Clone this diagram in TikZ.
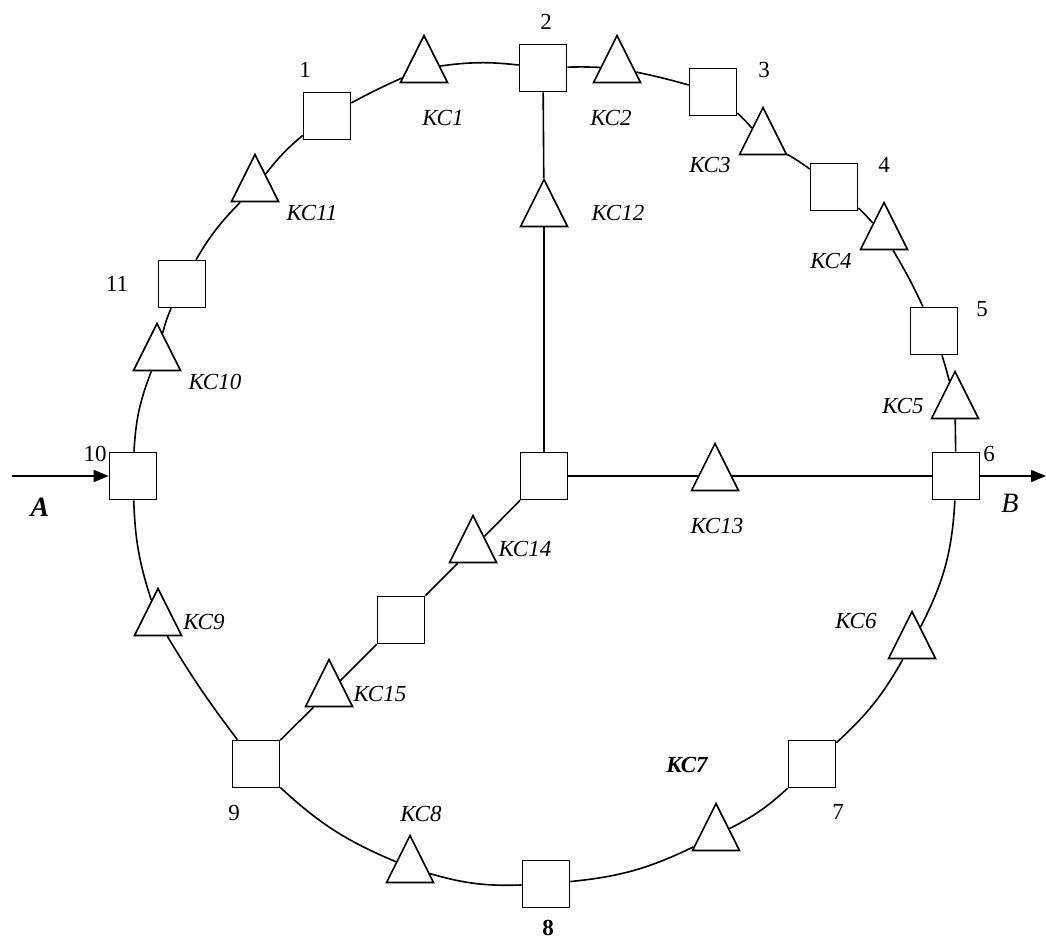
\documentclass[tikz,border=0pt]{standalone}
\usepackage{fontspec}
\setmainfont{Liberation Serif}
\usetikzlibrary{shapes.geometric,arrows.meta}
\begin{document}
\begin{tikzpicture}[x=1pt,y=1pt,
  sq/.style={draw,line width=1.6pt,minimum size=47pt,inner sep=0pt},
  tri/.style={draw,line width=1.6pt,isosceles triangle,shape border rotate=90,isosceles triangle stretches,minimum width=47pt,minimum height=47pt,inner sep=0pt},
  lbl/.style={font=\fontsize{23}{27}\selectfont,inner sep=0pt},
  kc/.style={font=\fontsize{23}{27}\selectfont\itshape,inner sep=0pt},
  pipe/.style={line width=1.6pt},
  tip/.style={-{Triangle[length=15pt,width=12pt]}},
]
\useasboundingbox (0,0) rectangle (1046,-942);
% squares
\node[sq] (n1) at (327,-116) {};
\node[sq] (n2) at (543,-68) {};
\node[sq] (n3) at (713,-92) {};
\node[sq] (n4) at (834,-187) {};
\node[sq] (n5) at (934,-331) {};
\node[sq] (n6) at (956,-476) {};
\node[sq] (n7) at (812,-764) {};
\node[sq] (n8) at (546,-884) {};
\node[sq] (n9) at (256,-764) {};
\node[sq] (n10) at (133,-476) {};
\node[sq] (n11) at (182,-284) {};
\node[sq] (nc) at (544,-476) {};
\node[sq] (nm) at (401,-620) {};
% triangles
\node[tri] (k1) at (424,-68) {};
\node[tri] (k2) at (617,-68) {};
\node[tri] (k3) at (763,-140) {};
\node[tri] (k4) at (884,-235) {};
\node[tri] (k5) at (955,-404) {};
\node[tri] (k6) at (912,-644) {};
\node[tri] (k7) at (716,-836) {};
\node[tri] (k8) at (410,-868) {};
\node[tri] (k9) at (158,-621) {};
\node[tri] (k10) at (157,-356) {};
\node[tri] (k11) at (255,-187) {};
\node[tri] (k12) at (544,-212) {};
\node[tri] (k13) at (715,-476) {};
\node[tri] (k14) at (473,-548) {};
\node[tri] (k15) at (329,-692) {};
% ring
\draw[pipe] (n10) to[bend left=9] (k10);
\draw[pipe] (k10) to[bend left=5] (n11);
\draw[pipe] (n11) to[bend left=7] (k11);
\draw[pipe] (k11) to[bend left=6] (n1);
\draw[pipe] (n1) to[bend left=2] (k1);
\draw[pipe] (k1) to[bend left=7] (n2);
\draw[pipe] (n2) to[bend left=2] (k2);
\draw[pipe] (k2) to[bend left=2] (n3);
\draw[pipe] (n3) to[bend left=3] (k3);
\draw[pipe] (k3) to[bend left=3] (n4);
\draw[pipe] (n4) to[bend left=3] (k4);
\draw[pipe] (k4) to[bend left=3] (n5);
\draw[pipe] (n5) to[bend left=2] (k5);
\draw[pipe] (k5) -- (n6);
\draw[pipe] (n6) to[bend left=12] (k6);
\draw[pipe] (k6) to[bend left=9] (n7);
\draw[pipe] (n7) to[bend left=8] (k7);
\draw[pipe] (k7) to[bend left=10] (n8);
\draw[pipe] (n8) to[bend left=9] (k8);
\draw[pipe] (k8) to[bend left=10] (n9);
\draw[pipe] (n9) to[bend left=3] (k9);
\draw[pipe] (k9) to[bend left=8] (n10);
% spokes
\draw[pipe] (n2) -- (k12);
\draw[line width=2.4pt] (k12) -- (nc);
\draw[pipe] (nc) -- (k13);
\draw[pipe] (k13) -- (n6);
\draw[pipe] (nc) -- (k14);
\draw[pipe] (k14) -- (nm);
\draw[pipe] (nm) -- (k15);
\draw[pipe] (k15) -- (n9);
% inflow / outflow
\coordinate (pa) at (12,-476);
\coordinate (pb) at (1046,-476);
\draw[pipe,tip] (pa) -- (n10);
\draw[pipe,tip] (n6) -- (pb);
% labels
\node[lbl] (l1) at (305,-70) {1};
\node[lbl] (l2) at (546,-22) {2};
\node[lbl] (l3) at (764,-70) {3};
\node[lbl] (l4) at (884,-165) {4};
\node[lbl] (l5) at (982,-309) {5};
\node[lbl] (l6) at (989,-454) {6};
\node[lbl] (l7) at (838,-812) {7};
\node[lbl,font=\fontsize{23}{27}\selectfont\bfseries] (l8) at (548,-928) {8};
\node[lbl] (l9) at (234,-813) {9};
\node[lbl] (l10) at (95,-454) {10};
\node[lbl] (l11) at (117,-284) {11};
\node[lbl,font=\fontsize{28}{32}\selectfont\bfseries\itshape] (la) at (40,-507) {A};
\node[kc,font=\fontsize{28}{32}\selectfont\itshape] (lb) at (1010,-503) {B};
\node[kc] (c1) at (443,-118) {КС1};
\node[kc] (c2) at (611,-118) {КС2};
\node[kc] (c3) at (710,-165) {КС3};
\node[kc] (c4) at (831,-261) {КС4};
\node[kc] (c5) at (903,-406) {КС5};
\node[kc] (c6) at (856,-621) {КС6};
\node[kc,font=\fontsize{23}{27}\selectfont\bfseries\itshape] (c7) at (687,-765) {КС7};
\node[kc] (c8) at (421,-814) {КС8};
\node[kc] (c9) at (204,-622) {КС9};
\node[kc] (c10) at (215,-382) {КС10};
\node[kc] (c11) at (312,-213) {КС11};
\node[kc] (c12) at (618,-213) {КС12};
\node[kc] (c13) at (717,-526) {КС13};
\node[kc] (c14) at (525,-549) {КС14};
\node[kc] (c15) at (380,-694) {КС15};
\end{tikzpicture}
\end{document}
